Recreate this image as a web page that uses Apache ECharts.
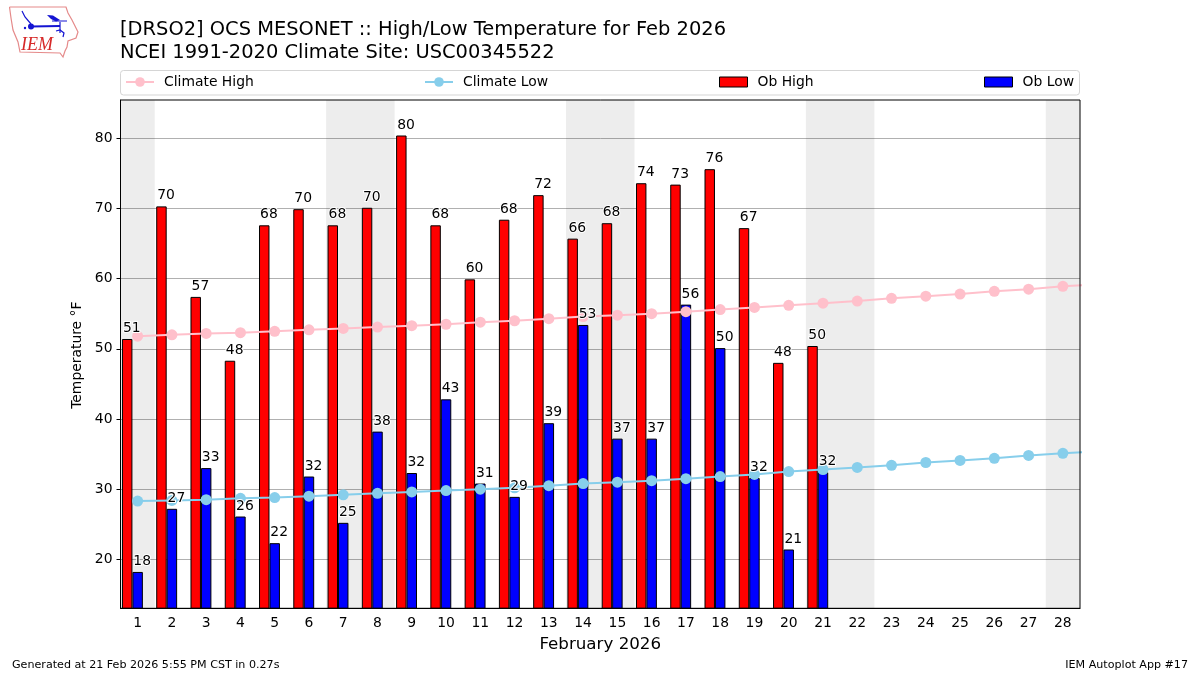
<!DOCTYPE html>
<html>
<head>
<meta charset="utf-8">
<style>html,body{margin:0;padding:0;background:#fff}#c{width:1200px;height:675px}</style>
<script src="https://cdn.jsdelivr.net/npm/echarts@6/dist/echarts.min.js"></script>
</head>
<body>
<div id="c"></div>
<script>
const days = ['1','2','3','4','5','6','7','8','9','10','11','12','13','14','15','16','17','18','19','20','21','22','23','24','25','26','27','28'];
const obHigh = [51.4,70.3,57.4,48.3,67.6,69.9,67.6,70.1,80.4,67.6,59.9,68.4,71.9,65.7,67.9,73.6,73.4,75.6,67.2,48.0,50.4];
const obLow = [18.2,27.2,33.0,26.1,22.3,31.8,25.2,38.2,32.3,42.8,30.8,28.9,39.4,53.4,37.2,37.2,56.3,50.1,31.6,21.4,32.4];
const climateHigh = [51.8,52.0,52.2,52.3,52.5,52.7,52.9,53.1,53.3,53.5,53.8,54.0,54.3,54.6,54.8,55.0,55.3,55.6,55.9,56.2,56.5,56.8,57.2,57.5,57.8,58.2,58.5,58.9,59.2];
const climateLow = [28.3,28.4,28.5,28.7,28.8,29.0,29.2,29.4,29.6,29.8,30.0,30.2,30.5,30.8,31.0,31.2,31.5,31.8,32.1,32.5,32.8,33.1,33.4,33.8,34.1,34.4,34.8,35.1,35.4];
const weekendBands = [[0.5,1.5],[6.5,8.5],[13.5,15.5],[20.5,22.5],[27.5,28.5]];
const yTicks = [20,30,40,50,60,70,80];
const yMin = 13.02, yMax = 85.46;

const FONT = 'DejaVu Sans';
const chart = echarts.init(document.getElementById('c'), null, {renderer:'canvas'});

const linePts = arr => arr.map((v,i)=>[i+1,v]);
const labelPts = (arr,shift) => arr.map((v,i)=>[i+1+shift,v]);
const labelSeries = (name,arr,shift) => ({
  name, type:'scatter', xAxisIndex:1, yAxisIndex:0, z:6, silent:true,
  symbolSize:1, itemStyle:{color:'rgba(0,0,0,0)', opacity:1},
  data:labelPts(arr,shift),
  label:{show:true, position:'top', distance:3, offset:[4.5,0],
    formatter:p=>String(Math.round(p.value[1])),
    fontFamily:FONT, fontSize:13.9, color:'#000', opacity:1, textBorderColor:'#fff', textBorderWidth:2}
});
const barSeries = (name,arr,color) => ({
  name, type:'bar', xAxisIndex:0, yAxisIndex:0, z:2, barWidth:'30.5%', barGap:'0%',
  data:arr, itemStyle:{color, borderColor:'#000', borderWidth:1}
});
const lineSeries = (name,arr,color) => ({
  name, type:'line', xAxisIndex:1, yAxisIndex:0, z:4, clip:true,
  data:linePts(arr), symbol:'circle', symbolSize:11, showAllSymbol:true,
  lineStyle:{color, width:2}, itemStyle:{color}
});
const legendAt = (name,left,h,top,icon) => Object.assign({
  data:[name], left, top, padding:0, itemWidth:28, itemHeight:h, selectedMode:false,
  textStyle:{fontFamily:FONT, fontSize:13.9, color:'#000', padding:[1,0,0,5]}
}, icon ? {icon, itemStyle:{borderColor:'#000',borderWidth:1}} : {lineStyle:{width:2}});

chart.setOption({
  animation:false,
  backgroundColor:'#fff',
  grid:{left:120.5, top:100, width:959.5, height:508.3, show:true, borderColor:'#000', borderWidth:1, backgroundColor:'transparent', z:8},
  title:[
    {text:'[DRSO2] OCS MESONET :: High/Low Temperature for Feb 2026\nNCEI 1991-2020 Climate Site: USC00345522',
     left:120, top:19, padding:0, textStyle:{fontFamily:FONT, fontSize:19.46, fontWeight:'normal', color:'#000', lineHeight:22.5}},
    {text:'Generated at 21 Feb 2026 5:55 PM CST in 0.27s', left:12, top:660, padding:0,
     textStyle:{fontFamily:FONT, fontSize:11.12, fontWeight:'normal', color:'#000'}},
    {text:'IEM Autoplot App #17', right:12, top:660, padding:0,
     textStyle:{fontFamily:FONT, fontSize:11.12, fontWeight:'normal', color:'#000'}}
  ],
  legend:[legendAt('Climate High',125,12,75),legendAt('Climate Low',424,12,75),legendAt('Ob High',719,10,75,'rect'),legendAt('Ob Low',984,10,75,'rect')],
  xAxis:[
    {type:'category', data:days, boundaryGap:true, name:'February 2026', nameLocation:'middle', nameGap:28,
     nameTextStyle:{fontFamily:FONT, fontSize:16.7, color:'#000'},
     axisLine:{lineStyle:{color:'#000',width:1}},
     axisTick:{alignWithLabel:true, length:4, lineStyle:{color:'#000'}},
     axisLabel:{interval:0, fontFamily:FONT, fontSize:13.9, color:'#000', margin:8},
     splitLine:{show:false}},
    {type:'value', min:0.5, max:28.5, show:false, splitLine:{show:false}}
  ],
  yAxis:[{type:'value', min:yMin, max:yMax, name:'Temperature °F', nameLocation:'middle', nameGap:30,
     nameTextStyle:{fontFamily:FONT, fontSize:13.9, color:'#000', padding:[0,2,0,0]},
     axisLine:{show:true, lineStyle:{color:'#000',width:1}},
     axisTick:{show:true, length:4, lineStyle:{color:'#000'}, customValues:yTicks},
     axisLabel:{fontFamily:FONT, fontSize:13.9, color:'#000', margin:8, padding:[2,0,0,0], customValues:yTicks},
     splitLine:{show:true, lineStyle:{color:'#b0b0b0',width:1}}}],
  graphic:[
    {type:'rect', z:-1, shape:{x:120.5,y:70.5,width:959,height:24.5,r:3}, style:{fill:'#fff',stroke:'#d5d5d5',lineWidth:1}},
    {type:'polyline', z:10, shape:{points:[[9.5,7],[66,7],[68,13],[72,20],[75,26],[78,32],[76,38],[68,41],[67,47],[65,51],[63,57],[60,53],[20,52],[18,42],[13,30],[11,18],[9.5,7]]},
     style:{fill:'none',stroke:'#e58a8a',lineWidth:1.2}},
    {type:'polyline', z:10, shape:{points:[[31,26.5],[60,26]]}, style:{fill:'none',stroke:'#1414d2',lineWidth:2}},
    {type:'circle', z:10, shape:{cx:31,cy:26.5,r:3}, style:{fill:'#1414d2'}},
    {type:'polyline', z:10, shape:{points:[[22,11],[25,17],[31,24]]}, style:{fill:'none',stroke:'#1414d2',lineWidth:1.2}},
    {type:'polygon', z:10, shape:{points:[[47,15],[53,15.5],[60,20],[56,21.5],[51,19]]}, style:{fill:'#1414d2'}},
    {type:'polyline', z:10, shape:{points:[[52,21],[67,21]]}, style:{fill:'none',stroke:'#1414d2',lineWidth:1}},
    {type:'polyline', z:10, shape:{points:[[60,22],[60,33]]}, style:{fill:'none',stroke:'#1414d2',lineWidth:1.2}},
    {type:'polyline', z:10, shape:{points:[[56,31],[60,30],[64,33],[63,37]]}, style:{fill:'none',stroke:'#1414d2',lineWidth:1.2}},
    {type:'circle', z:10, shape:{cx:25,cy:28,r:1.2}, style:{fill:'#1414d2'}},
    {type:'text', z:10, x:21, y:36, style:{text:'IEM', fontFamily:'Liberation Serif', fontStyle:'italic', fontSize:18, fill:'#d62828'}}
  ],
  series:[
    {name:'bands', type:'line', xAxisIndex:1, yAxisIndex:0, z:1, data:[], silent:true,
     markArea:{silent:true, itemStyle:{color:'rgba(0,0,0,0.07)'},
       data:weekendBands.map(b=>[{xAxis:b[0],yAxis:yMin},{xAxis:b[1],yAxis:yMax}])}},
    barSeries('Ob High',obHigh,'#ff0000'),
    barSeries('Ob Low',obLow,'#0000ff'),
    barSeries('spacer',[],'rgba(0,0,0,0)'),
    lineSeries('Climate High',climateHigh,'#ffc0cb'),
    lineSeries('Climate Low',climateLow,'#87ceeb'),
    labelSeries('high labels',obHigh,-0.3),
    labelSeries('low labels',obLow,0)
  ]
});
</script>
</body>
</html>
